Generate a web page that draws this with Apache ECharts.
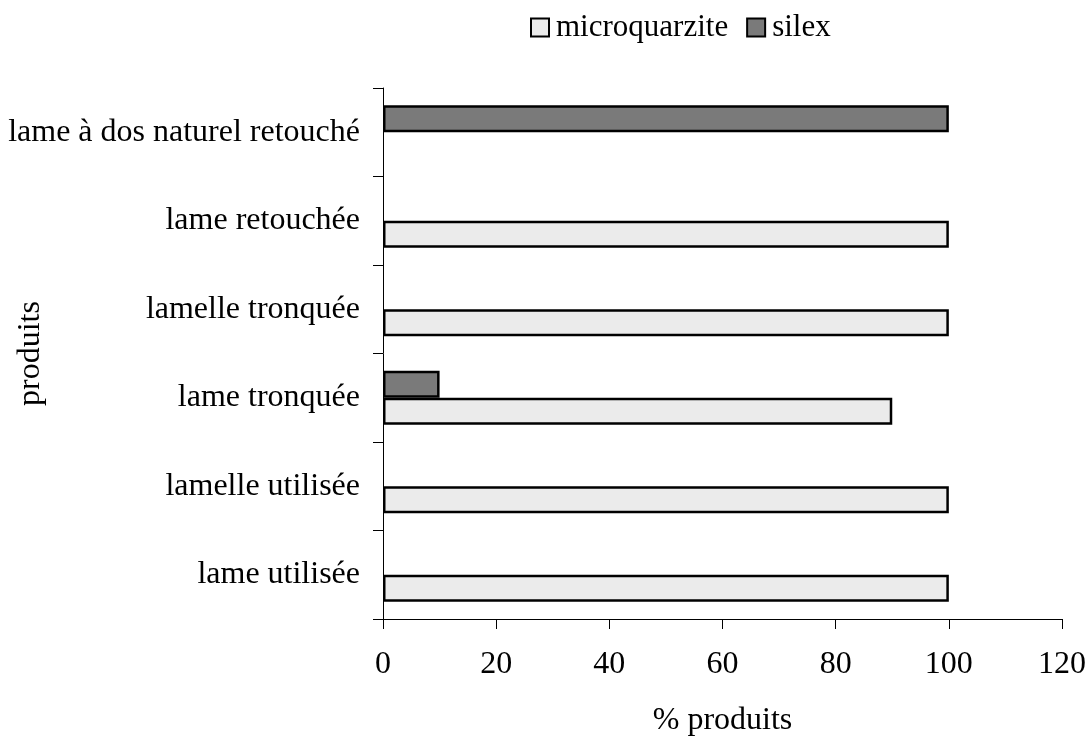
<!DOCTYPE html>
<html>
<head>
<meta charset="utf-8">
<script src="https://cdn.jsdelivr.net/npm/echarts@6/dist/echarts.min.js"></script>
<style>html,body{margin:0;padding:0;background:#fff;}#c{width:1092px;height:739px;}</style>
</head>
<body>
<div id="c"></div>
<script>
const categories = ['lame utilisée', 'lamelle utilisée', 'lame tronquée', 'lamelle tronquée', 'lame retouchée', 'lame à dos naturel retouché'];
const microquarzite = [100, 100, 90, 100, 100, 0];
const silex = [0, 0, 10, 0, 0, 100];
const xTicks = [0, 20, 40, 60, 80, 100, 120];

const font = 'Liberation Serif';
const hideZero = arr => arr.map(v => (v === 0 ? '-' : v));
const chart = echarts.init(document.getElementById('c'));
chart.setOption({
  backgroundColor: '#fff',
  animation: false,
  textStyle: { fontFamily: font, color: '#000' },
  legend: {
    top: 7, left: 525,
    icon: 'rect', itemWidth: 18, itemHeight: 18, itemGap: 18,
    textStyle: { fontFamily: font, fontSize: 31, color: '#000', padding: [0, 0, 0, 2] },
    itemStyle: { borderColor: '#000', borderWidth: 2 },
    data: ['microquarzite', 'silex']
  },
  grid: { left: 383, right: 30, top: 88, bottom: 120, containLabel: false, outerBoundsMode: 'none' },
  xAxis: {
    type: 'value', min: xTicks[0], max: xTicks[xTicks.length - 1], interval: 20,
    name: '% produits', nameLocation: 'middle', nameGap: 86, nameMoveOverlap: false,
    nameTextStyle: { fontFamily: font, fontSize: 32, color: '#000' },
    axisLine: { show: true, lineStyle: { color: '#000', width: 1 } },
    axisTick: { show: true, length: 10, lineStyle: { color: '#000' } },
    axisLabel: { fontFamily: font, fontSize: 32, color: '#000', margin: 30 },
    splitLine: { show: false }
  },
  yAxis: {
    type: 'category', data: categories,
    name: 'produits', nameLocation: 'middle', nameGap: 336, nameRotate: 90, nameMoveOverlap: false,
    nameTextStyle: { fontFamily: font, fontSize: 32, color: '#000' },
    axisLine: { show: true, lineStyle: { color: '#000', width: 1 } },
    axisTick: { show: true, length: 10, lineStyle: { color: '#000' } },
    axisLabel: { fontFamily: font, fontSize: 32, color: '#000', margin: 23 }
  },
  series: [
    {
      name: 'silex', type: 'bar', data: hideZero(silex),
      barWidth: 27, barGap: '0%',
      itemStyle: { color: '#7a7a7a', borderColor: '#000', borderWidth: 2.5 }
    },
    {
      name: 'microquarzite', type: 'bar', data: hideZero(microquarzite),
      barWidth: 27, barGap: '0%',
      itemStyle: { color: '#ebebeb', borderColor: '#000', borderWidth: 2.5 }
    }
  ]
});
</script>
</body>
</html>
